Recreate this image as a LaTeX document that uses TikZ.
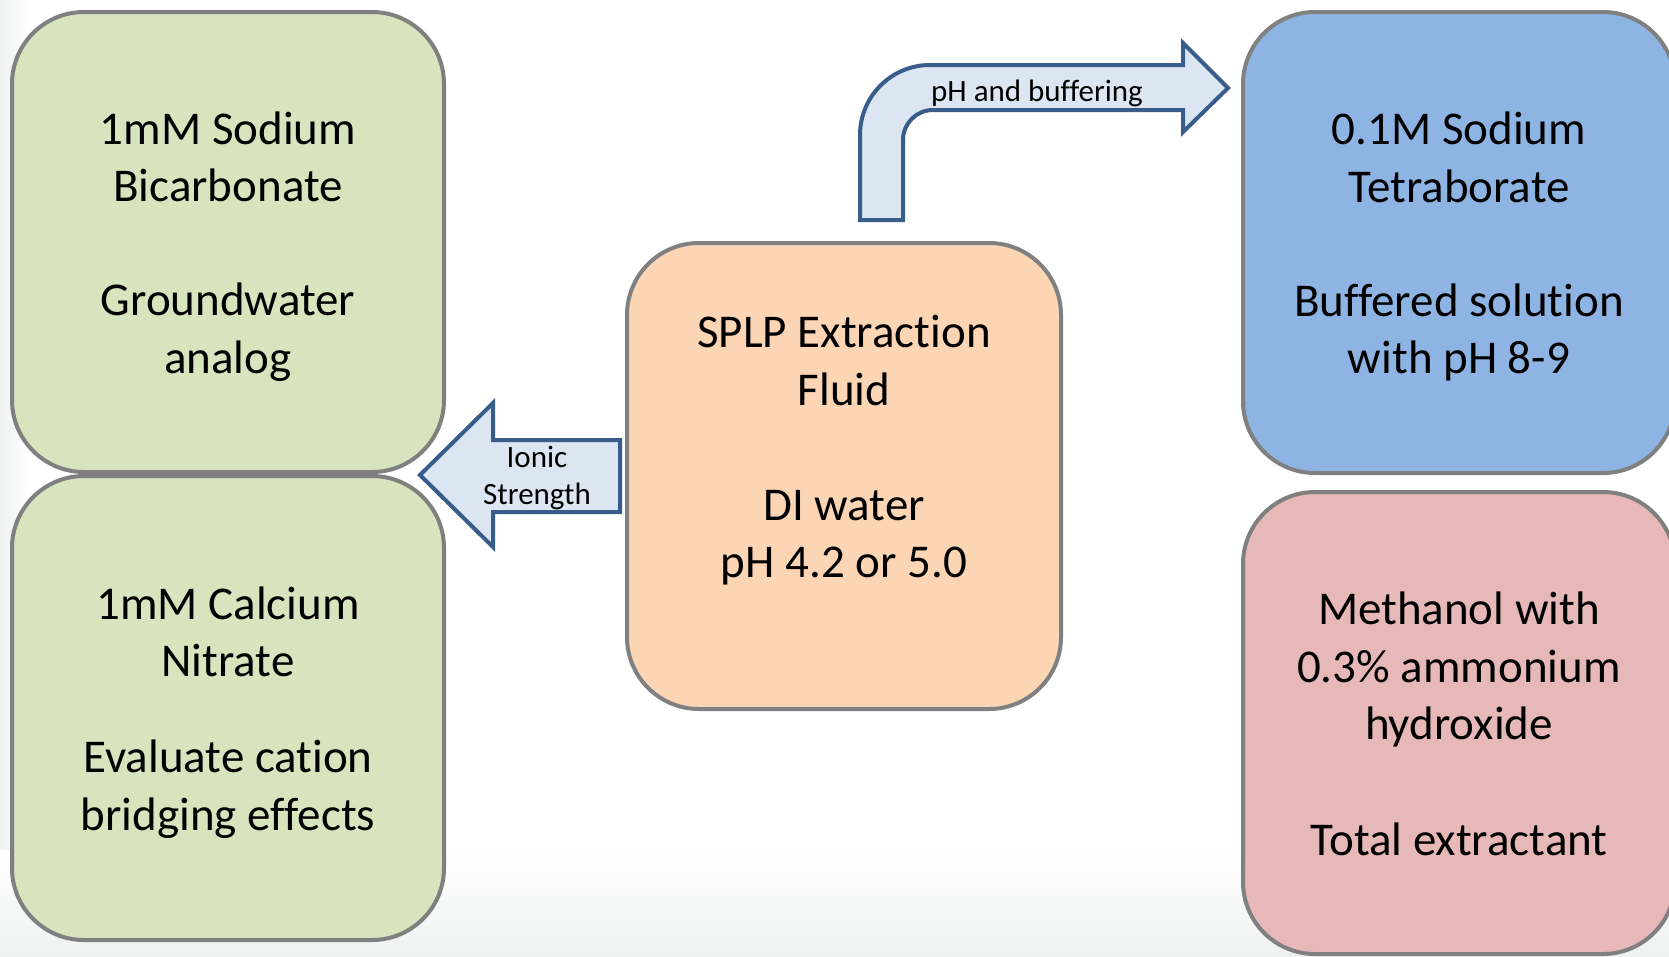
\documentclass[tikz,border=0pt]{standalone}
\usepackage{fontspec}
\setmainfont{Carlito}[Ligatures=NoCommon]
\usepackage{tikz}
\usetikzlibrary{calc}
\definecolor{boxgray}{RGB}{128,128,128}
\definecolor{olivefill}{RGB}{215,228,189}
\definecolor{bluefill}{RGB}{142,180,227}
\definecolor{pinkfill}{RGB}{230,185,184}
\definecolor{peachfill}{RGB}{252,213,181}
\definecolor{arrowfill}{RGB}{220,230,242}
\definecolor{arrowline}{RGB}{56,93,138}
\definecolor{edgegray}{RGB}{239,241,241}

\begin{document}
\begin{tikzpicture}[x=1pt,y=-1pt,
    fluidbox/.style={draw=boxgray,line width=4pt,rounded corners=72pt,inner sep=0pt,minimum width=432pt},
    boxtext/.style={align=center,font=\fontsize{47}{57.5}\selectfont,inner sep=0pt},
    blockarrow/.style={draw=arrowline,fill=arrowfill,line width=4pt},
    arrowtext/.style={align=center,font=\fontsize{31}{37.8}\selectfont,inner sep=0pt}]
        \useasboundingbox (0,0) rectangle (1669,956);
        \clip (0,0) rectangle (1669,956);
        % Background
        \fill[white] (0,0) rectangle (1669,956);
        \shade[left color=edgegray,right color=white] (0,0) rectangle (30,956);
        \shade[top color=white,bottom color=edgegray] (0,850) rectangle (1669,956);
        % Left column
        \node[fluidbox,fill=olivefill,minimum height=460pt] (bicarb) at (228,242) {};
        \node[fluidbox,fill=olivefill,minimum height=464pt] (nitrate) at (228,708) {};
        % Extraction fluid
        \node[fluidbox,fill=peachfill,minimum width=434pt,minimum height=466pt] (splp) at (844,476) {};
        % Right column, runs off the page edge
        \node[fluidbox,fill=bluefill,minimum height=461pt] (borate) at (1459,242.5) {};
        \node[fluidbox,fill=pinkfill,minimum height=462pt] (methanol) at (1459,723) {};
        % Box texts
        \node[boxtext] (bicarb-txt) at (228,246.5) {1mM Sodium\\Bicarbonate\\[56.5pt]Groundwater\\analog};
        \node[boxtext] (nitrate-txt) at (228,712.5) {1mM Calcium\\Nitrate\\[38.5pt]Evaluate cation\\bridging effects};
        \node[boxtext] (splp-txt) at (844,450.5) {SPLP Extraction\\Fluid\\[57.5pt]DI water\\pH 4.2 or 5.0};
        \node[boxtext] (borate-txt) at (1459,246.5) {0.1M Sodium\\Tetraborate\\[56.5pt]Buffered solution\\with pH 8-9};
        \node[boxtext] (methanol-txt) at (1459,724) {Methanol with\\0.3\% ammonium\\hydroxide\\[58pt]Total extractant};
        % Ionic strength arrow
        \filldraw[blockarrow] (620,440) -- (493,440) -- (493,403) -- (420,475)
            -- (493,547) -- (493,512) -- (620,512) -- cycle;
        \node[arrowtext] (ionic) at (537,478) {Ionic\\Strength};
        % pH and buffering arrow
        \filldraw[blockarrow] (860,220) -- (860,135) arc[start angle=180,end angle=270,radius=70]
            -- (1183,65) -- (1183,43) -- (1228,88) -- (1183,132) -- (1183,110)
            -- (933,110) arc[start angle=270,end angle=180,radius=30] -- (903,220) -- cycle;
        \node[arrowtext,anchor=base] (buffering) at (1037,101) {pH and buffering};
      \end{tikzpicture}
\end{document}
